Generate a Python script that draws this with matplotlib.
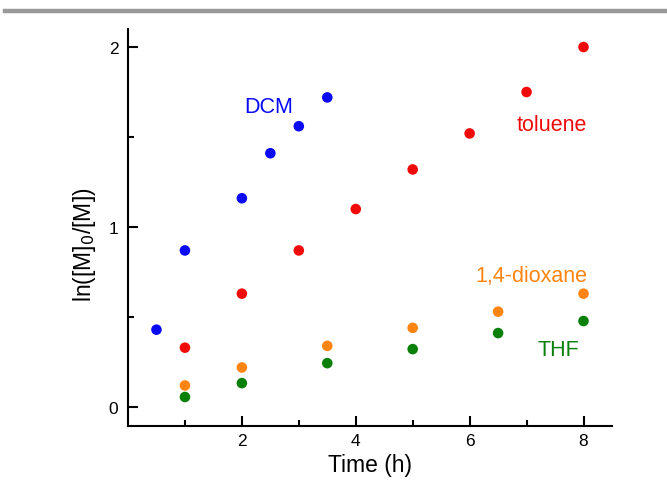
import numpy as np
import matplotlib.pyplot as plt
from matplotlib.lines import Line2D

plt.rcParams['font.family'] = ['Liberation Sans', 'DejaVu Sans']

# data
dcm_t = [0.5, 1, 2, 2.5, 3, 3.5]
dcm_y = [0.43, 0.87, 1.16, 1.41, 1.56, 1.72]
tol_t = [1, 2, 3, 4, 5, 6, 7, 8]
tol_y = [0.33, 0.63, 0.87, 1.10, 1.32, 1.52, 1.75, 2.0]
diox_t = [1, 2, 3.5, 5, 6.5, 8]
diox_y = [0.12, 0.22, 0.34, 0.44, 0.53, 0.63]
thf_t = [1, 2, 3.5, 5, 6.5, 8]
thf_y = [0.056, 0.133, 0.244, 0.322, 0.411, 0.478]

series = [
    (dcm_t, dcm_y, '#0a0af5', 'DCM', 2.47, 1.672),
    (tol_t, tol_y, '#f00a0a', 'toluene', 7.44, 1.572),
    (diox_t, diox_y, '#ff8410', '1,4-dioxane', 7.09, 0.733),
    (thf_t, thf_y, '#098009', 'THF', 7.56, 0.322),
]

fig = plt.figure(figsize=(6.67, 4.81), dpi=100)
ax = fig.add_axes([0.1919, 0.1123, 0.7256, 0.8253])

for t, y, c, name, lx, ly in series:
    ax.scatter(t, y, s=58, color=c, edgecolors='none', zorder=3)
    ax.text(lx, ly, name, color=c, fontsize=15.5, ha='center', va='center')

ax.set_xlim(0, 8.5)
ax.set_ylim(-0.105, 2.1)
ax.set_xticks([2, 4, 6, 8])
ax.set_xticks([1, 3, 5, 7], minor=True)
ax.set_yticks([0, 1, 2])
ax.set_yticks([0.5, 1.5], minor=True)
ax.tick_params(direction='in', length=7, width=1.5, labelsize=12.5, pad=7)
ax.tick_params(axis='x', pad=5)
ax.tick_params(which='minor', direction='in', length=4, width=1.5)
for s in ['top', 'right']:
    ax.spines[s].set_visible(False)
for s in ['left', 'bottom']:
    ax.spines[s].set_linewidth(1.5)

ax.set_xlabel('Time (h)', fontsize=16.5, labelpad=4)
ax.set_ylabel(r'ln([M]$_0$/[M])', fontsize=16.5)
ax.yaxis.set_label_coords(-0.062, 0.458)

fig.add_artist(Line2D([0.008, 1], [0.976, 0.976], color='#999999', lw=3.2,
                      transform=fig.transFigure))

fig.savefig('out.png', dpi=100)
